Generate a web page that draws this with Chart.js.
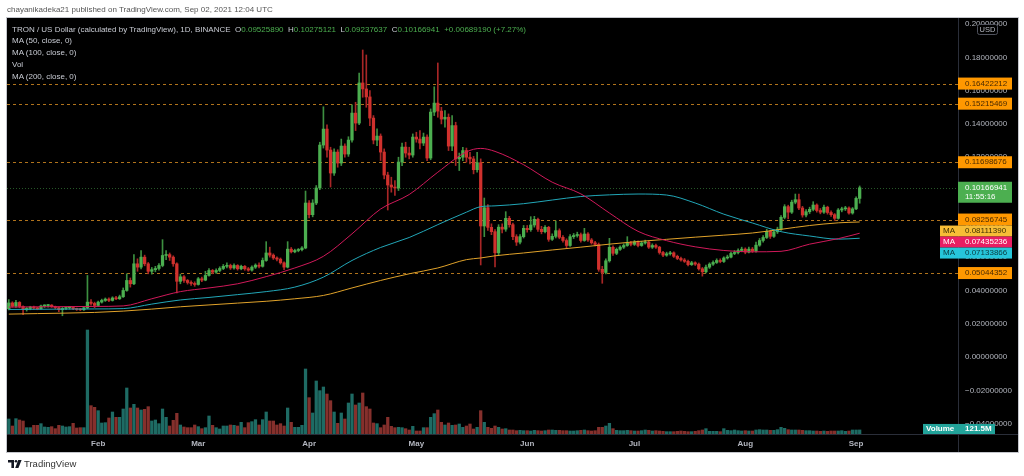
<!DOCTYPE html>
<html lang="en">
<head>
  <meta charset="UTF-8">
  <title>TRON / US Dollar</title>
  <script src="https://cdn.jsdelivr.net/npm/chart.js"></script>
  <style>
    html, body { margin: 0; padding: 0; background: #ffffff; }
    #tela { position: relative; width: 1024px; height: 476px; overflow: hidden; font-family: "Liberation Sans", Arial, sans-serif; }
    #grafico { position: absolute; left: 0; top: 0; }
    #publicado { position: absolute; left: 7px; top: 5px; font-size: 8px; color: #555555; white-space: nowrap; }
    #legenda { position: absolute; left: 12px; top: 23.5px; font-size: 8px; line-height: 11.8px; color: #c9ccd4; white-space: nowrap; }
    #legenda .v { color: #4caf50; }
    #rodape { position: absolute; left: 8px; top: 458px; font-size: 9.5px; color: #333333; white-space: nowrap; }
    #rodape svg { vertical-align: -1px; margin-right: 2px; }
  </style>
</head>

<body>
  <div id="tela">
    <canvas id="grafico" width="1024" height="476"></canvas>
    <div id="publicado">chayanikadeka21 published on TradingView.com, Sep 02, 2021 12:04 UTC</div>
    <div id="legenda">
      <div>TRON / US Dollar (calculated by TradingView), 1D, BINANCE&nbsp;&nbsp;O<span class="v">0.09525890</span>&nbsp;&nbsp;H<span class="v">0.10275121</span>&nbsp;&nbsp;L<span class="v">0.09237637</span>&nbsp;&nbsp;C<span class="v">0.10166941</span>&nbsp;&nbsp;<span class="v">+0.00689190 (+7.27%)</span></div>
      <div>MA (50, close, 0)</div>
      <div>MA (100, close, 0)</div>
      <div>Vol</div>
      <div>MA (200, close, 0)</div>
    </div>
    <div id="rodape"><svg width="14" height="8" viewBox="0 0 14 8"><path d="M0 0H6V8H3.4V2.4H0Z" fill="#131722"/><circle cx="8" cy="1.3" r="1.3" fill="#131722"/><path d="M10.2 0H13.6L10.4 8H7.2Z" fill="#131722"/></svg>TradingView</div>
  </div>

<script>
  // candles diarios a partir de 7 jan 2021
  var abertura = [
    .0290, .0325, .0305, .0328, .0304, .0285, .0292, .0300, .0294, .0290,
    .0307, .0309, .0312, .0302, .0297, .0285, .0292, .0296, .0298, .0290,
    .0286, .0284, .0296, .0330, .0322, .0310, .0330, .0340, .0348, .0340,
    .0355, .0350, .0362, .0400, .0460, .0440, .0560, .0540, .0600, .0560,
    .0515, .0525, .0532, .0550, .0610, .0615, .0600, .0560, .0455, .0482,
    .0460, .0448, .0442, .0436, .0470, .0462, .0490, .0520, .0510, .0520,
    .0532, .0545, .0550, .0535, .0550, .0530, .0545, .0530, .0522, .0540,
    .0552, .0545, .0580, .0625, .0612, .0595, .0588, .0566, .0540, .0648,
    .0632, .0640, .0645, .0655, .0925, .0855, .0925, .1015, .1273, .1369,
    .1243, .1105, .1231, .1165, .1267, .1219, .1303, .1465, .1405, .1646,
    .1610, .1562, .1435, .1303, .1327, .1231, .1093, .1033, .1021, .1015,
    .1171, .1261, .1225, .1213, .1321, .1309, .1285, .1321, .1195, .1471,
    .1525, .1477, .1429, .1440, .1267, .1390, .1190, .1200, .1240, .1200,
    .1190, .1125, .1167, .0787, .0897, .0779, .0753, .0626, .0780, .0768,
    .0833, .0795, .0723, .0690, .0723, .0773, .0765, .0793, .0827, .0767,
    .0753, .0779, .0707, .0725, .0759, .0719, .0700, .0670, .0723, .0730,
    .0735, .0700, .0739, .0703, .0686, .0676, .0527, .0508, .0578, .0659,
    .0623, .0647, .0660, .0670, .0685, .0677, .0690, .0670, .0685, .0690,
    .0660, .0670, .0660, .0628, .0612, .0620, .0626, .0605, .0592, .0583,
    .0575, .0555, .0566, .0558, .0530, .0512, .0540, .0558, .0568, .0580,
    .0574, .0595, .0600, .0622, .0628, .0640, .0648, .0630, .0648, .0636,
    .0672, .0700, .0718, .0755, .0725, .0752, .0768, .0839, .0903, .0870,
    .0930, .0945, .0895, .0853, .0873, .0887, .0913, .0880, .0870, .0900,
    .0868, .0855, .0833, .0883, .0890, .0895, .0865, .0890, .09526
  ];
  var maxima = [
    .0345, .0332, .0340, .0333, .0308, .0298, .0305, .0306, .0300, .0312,
    .0314, .0316, .0315, .0306, .0300, .0298, .0300, .0302, .0300, .0294,
    .0292, .0300, .0490, .0345, .0330, .0336, .0348, .0355, .0356, .0362,
    .0364, .0372, .0415, .0500, .0475, .0615, .0590, .0640, .0612, .0568,
    .0538, .0545, .0562, .0705, .0640, .0625, .0608, .0566, .0498, .0490,
    .0466, .0458, .0452, .0478, .0480, .0515, .0532, .0526, .0530, .0542,
    .0556, .0566, .0558, .0560, .0555, .0552, .0550, .0538, .0548, .0560,
    .0566, .0595, .0693, .0660, .0620, .0602, .0595, .0572, .0693, .0658,
    .0648, .0652, .0664, .0997, .0940, .0945, .1030, .1290, .1503, .1395,
    .1260, .1250, .1245, .1309, .1280, .1323, .1514, .1530, .1706, .1844,
    .1814, .1600, .1450, .1370, .1340, .1250, .1110, .1080, .1060, .1200,
    .1285, .1290, .1260, .1340, .1350, .1360, .1345, .1335, .1490, .1623,
    .1766, .1500, .1480, .1460, .1450, .1410, .1225, .1260, .1255, .1230,
    .1205, .1230, .1190, .0955, .0915, .0800, .0765, .0795, .0800, .0873,
    .0845, .0805, .0735, .0735, .0790, .0790, .0843, .0845, .0835, .0785,
    .0790, .0785, .0740, .0817, .0770, .0730, .0710, .0735, .0742, .0750,
    .0745, .0773, .0748, .0712, .0695, .0685, .0545, .0590, .0713, .0668,
    .0655, .0668, .0680, .0723, .0695, .0700, .0698, .0695, .0702, .0698,
    .0680, .0678, .0665, .0635, .0630, .0635, .0632, .0612, .0600, .0592,
    .0582, .0575, .0572, .0565, .0538, .0552, .0566, .0578, .0590, .0590,
    .0602, .0612, .0630, .0640, .0650, .0660, .0656, .0660, .0658, .0690,
    .0712, .0730, .0768, .0762, .0765, .0780, .0850, .0915, .0912, .0942,
    .0979, .0979, .0905, .0885, .0900, .0933, .0920, .0892, .0912, .0906,
    .0878, .0862, .0892, .0900, .0905, .0902, .0898, .0962, .10275
  ];
  var minima = [
    .0283, .0300, .0298, .0296, .0255, .0276, .0284, .0288, .0284, .0287,
    .0298, .0300, .0298, .0290, .0272, .0248, .0284, .0288, .0285, .0280,
    .0279, .0280, .0290, .0312, .0296, .0305, .0324, .0334, .0332, .0336,
    .0344, .0346, .0358, .0395, .0420, .0435, .0515, .0530, .0548, .0500,
    .0498, .0512, .0522, .0542, .0585, .0580, .0545, .0385, .0440, .0448,
    .0438, .0430, .0425, .0432, .0452, .0458, .0485, .0500, .0503, .0512,
    .0525, .0536, .0526, .0528, .0522, .0524, .0521, .0515, .0516, .0532,
    .0536, .0540, .0575, .0600, .0586, .0578, .0558, .0525, .0535, .0625,
    .0626, .0632, .0638, .0650, .0835, .0842, .0915, .1005, .1255, .1200,
    .1021, .1090, .1140, .1150, .1200, .1205, .1290, .1360, .1395, .1560,
    .1500, .1390, .1280, .1270, .1180, .1070, .0883, .0990, .0970, .1000,
    .1150, .1200, .1190, .1200, .1290, .1250, .1270, .1180, .1185, .1450,
    .1440, .1400, .1380, .1240, .1240, .1150, .1120, .1180, .1170, .1160,
    .1100, .1110, .0553, .0723, .0760, .0735, .0542, .0610, .0745, .0755,
    .0780, .0705, .0670, .0680, .0715, .0750, .0755, .0780, .0755, .0740,
    .0745, .0695, .0700, .0715, .0710, .0690, .0655, .0665, .0712, .0720,
    .0690, .0695, .0695, .0678, .0668, .0515, .0443, .0500, .0570, .0610,
    .0615, .0640, .0652, .0665, .0668, .0670, .0662, .0665, .0678, .0652,
    .0652, .0652, .0618, .0603, .0605, .0612, .0598, .0585, .0576, .0568,
    .0548, .0550, .0550, .0522, .0486, .0505, .0532, .0550, .0562, .0566,
    .0568, .0588, .0595, .0615, .0620, .0632, .0620, .0625, .0628, .0630,
    .0665, .0690, .0712, .0712, .0718, .0742, .0760, .0830, .0830, .0862,
    .0920, .0885, .0840, .0842, .0862, .0878, .0870, .0860, .0862, .0858,
    .0845, .0820, .0828, .0872, .0880, .0858, .0858, .0885, .09238
  ];
  var fechamento = [
    .0325, .0305, .0328, .0304, .0285, .0292, .0300, .0294, .0290, .0307,
    .0309, .0312, .0302, .0297, .0285, .0292, .0296, .0298, .0290, .0286,
    .0284, .0296, .0330, .0322, .0310, .0330, .0340, .0348, .0340, .0355,
    .0350, .0362, .0400, .0460, .0440, .0560, .0540, .0600, .0560, .0515,
    .0525, .0532, .0550, .0610, .0615, .0600, .0560, .0455, .0482, .0460,
    .0448, .0442, .0436, .0470, .0462, .0490, .0520, .0510, .0520, .0532,
    .0545, .0550, .0535, .0550, .0530, .0545, .0530, .0522, .0540, .0552,
    .0545, .0580, .0625, .0612, .0595, .0588, .0566, .0540, .0648, .0632,
    .0640, .0645, .0655, .0925, .0855, .0925, .1015, .1273, .1369, .1243,
    .1105, .1231, .1165, .1267, .1219, .1303, .1465, .1405, .1646, .1610,
    .1562, .1435, .1303, .1327, .1231, .1093, .1033, .1021, .1015, .1171,
    .1261, .1225, .1213, .1321, .1309, .1285, .1321, .1195, .1471, .1525,
    .1477, .1429, .1440, .1267, .1390, .1190, .1200, .1240, .1200, .1190,
    .1125, .1167, .0787, .0897, .0779, .0753, .0626, .0780, .0768, .0833,
    .0795, .0723, .0690, .0723, .0773, .0765, .0793, .0827, .0767, .0753,
    .0779, .0707, .0725, .0759, .0719, .0700, .0670, .0723, .0730, .0735,
    .0700, .0739, .0703, .0686, .0676, .0527, .0508, .0578, .0659, .0623,
    .0647, .0660, .0670, .0685, .0677, .0690, .0670, .0685, .0690, .0660,
    .0670, .0660, .0628, .0612, .0620, .0626, .0605, .0592, .0583, .0575,
    .0555, .0566, .0558, .0530, .0512, .0540, .0558, .0568, .0580, .0574,
    .0595, .0600, .0622, .0628, .0640, .0648, .0630, .0648, .0636, .0672,
    .0700, .0718, .0755, .0725, .0752, .0768, .0839, .0903, .0870, .0930,
    .0945, .0895, .0853, .0873, .0887, .0913, .0880, .0870, .0900, .0868,
    .0855, .0833, .0883, .0890, .0895, .0865, .0890, .0953, .10167
  ];
  // volume em milhoes
  var volume = [
    450, 240, 460, 420, 390, 190, 190, 260, 260, 310,
    210, 200, 220, 160, 260, 240, 210, 220, 320, 180,
    190, 190, 3120, 850, 800, 700, 330, 340, 480, 660,
    500, 500, 750, 1380, 780, 890, 780, 720, 740, 820,
    390, 420, 310, 750, 500, 240, 410, 620, 270, 210,
    190, 190, 270, 220, 160, 190, 540, 260, 190, 150,
    240, 240, 270, 260, 240, 350, 190, 340, 370, 430,
    270, 430, 660, 390, 390, 270, 310, 240, 780, 350,
    200, 200, 260, 1950, 1090, 630, 1590, 1300, 1410, 1200,
    1000, 660, 320, 630, 450, 930, 1200, 870, 930, 1230,
    820, 750, 330, 310, 190, 270, 500, 230, 190, 200,
    190, 160, 120, 230, 90, 90, 190, 190, 500, 610,
    720, 350, 270, 330, 260, 270, 300, 200, 240, 300,
    150, 200, 700, 350, 200, 170, 240, 200, 150, 160,
    120, 120, 100, 110, 100, 100, 90, 110, 100, 90,
    100, 120, 120, 110, 110, 100, 100, 90, 90, 100,
    110, 120, 100, 90, 100, 200, 200, 240, 320, 160,
    110, 100, 100, 110, 100, 90, 90, 100, 120, 110,
    90, 100, 90, 80, 70, 70, 70, 80, 90, 80,
    70, 70, 80, 100, 120, 160, 80, 80, 80, 70,
    160, 110, 100, 120, 100, 90, 100, 90, 90, 120,
    130, 120, 120, 110, 110, 130, 200, 170, 130, 120,
    120, 120, 110, 100, 100, 90, 90, 80, 90, 80,
    90, 90, 90, 100, 80, 90, 120, 120, 121.5
  ];

  // medias moveis lidas em alguns dias
  var diasMM = [0, 8, 16, 24, 32, 40, 48, 56, 64, 72, 80, 88, 96, 104, 112, 120, 128, 132, 136, 144, 152, 160, 168, 176, 184, 192, 200, 208, 216, 224, 232, 238];
  var mm50 = [.0300, .0302, .0303, .0304, .0307, .0350, .0393, .0415, .0440, .0483, .0535, .0605, .0740, .0889, .0976, .1110, .1232, .1253, .1235, .1155, .1050, .0980, .0865, .0755, .0699, .0662, .0640, .0632, .0635, .0678, .0711, .07435236];
  var mm100 = [.0286, .0287, .0288, .0289, .0291, .0318, .0343, .0358, .0375, .0393, .0420, .0480, .0580, .0658, .0718, .0795, .0870, .0903, .0908, .0921, .0943, .0964, .0974, .0979, .0973, .0925, .0858, .0805, .0753, .0727, .0708, .07133866];
  var mm200 = [.0258, .0261, .0264, .0268, .0276, .0288, .0302, .0313, .0324, .0335, .0350, .0370, .0415, .0460, .0500, .0535, .0585, .0595, .0608, .0625, .0643, .0660, .0678, .0694, .0707, .0720, .0732, .0745, .0767, .0790, .0806, .08111390];

  var meses = ['Jan', 'Feb', 'Mar', 'Apr', 'May', 'Jun', 'Jul', 'Aug', 'Sep', 'Oct'];
  var ticksPreco = [0.2, 0.18, 0.16, 0.14, 0.12, 0.1, 0.08, 0.06, 0.04, 0.02, 0, -0.02, -0.04];
  var niveis = [0.16422212, 0.15215469, 0.11698676, 0.08256745, 0.05044352];
  var precoAtual = 0.10166941;
  var contagem = '11:55:16';
  var volumeAtual = '121.5M';

  var fonte = '"Liberation Sans", Arial, sans-serif';
  var totalDias = 266;
  var inicio = Date.UTC(2021, 0, 7);

  var dias = [];
  for (let i = 0; i < totalDias; i++) {
    let d = new Date(inicio + i * 86400000);
    dias.push(`${d.getUTCFullYear()}-${d.getUTCMonth() + 1}-${d.getUTCDate()}`);
  }

  var pavios = [];
  var corpos = [];
  var corCorpo = [];
  var corPavio = [];
  var corVolume = [];
  for (let i = 0; i < fechamento.length; i++) {
    let alta = fechamento[i] >= abertura[i];
    pavios.push([minima[i], maxima[i]]);
    corpos.push([abertura[i], fechamento[i]]);
    corCorpo.push(alta ? '#4caf50' : '#d0312d');
    corPavio.push(alta ? '#3d8f40' : '#a82626');
    corVolume.push(alta ? '#1e6b64' : '#85302c');
  }

  function serieMM(valores) {
    let serie = new Array(fechamento.length).fill(null);
    for (let k = 0; k < diasMM.length; k++) {
      serie[diasMM[k]] = valores[k];
    }
    return serie;
  }

  function caixa(ctx, x1, x2, topo, altura, cor) {
    ctx.fillStyle = cor;
    ctx.fillRect(x1, topo, x2 - x1, altura);
  }

  const moldura = {
    id: 'moldura',
    beforeDraw(chart) {
      const ctx = chart.ctx;
      const a = chart.chartArea;
      ctx.save();
      ctx.fillStyle = '#ffffff';
      ctx.fillRect(0, 0, chart.width, chart.height);
      ctx.fillStyle = '#000000';
      ctx.fillRect(a.left, a.top, a.right - a.left + 60, a.bottom - a.top + 18);
      ctx.strokeStyle = '#c4c6cc';
      ctx.lineWidth = 1;
      ctx.strokeRect(a.left - 0.5, a.top - 0.5, a.right - a.left + 61, a.bottom - a.top + 19);
      ctx.restore();
    },
    beforeDatasetsDraw(chart) {
      const ctx = chart.ctx;
      const a = chart.chartArea;
      const y = chart.scales.y;
      ctx.save();
      ctx.beginPath();
      ctx.rect(a.left, a.top, a.right - a.left, a.bottom - a.top);
      ctx.clip();
      ctx.lineWidth = 1;
      ctx.strokeStyle = '#b0731c';
      ctx.setLineDash([3, 3]);
      niveis.forEach(function (v) {
        let py = Math.round(y.getPixelForValue(v)) + 0.5;
        ctx.beginPath();
        ctx.moveTo(a.left, py);
        ctx.lineTo(a.right, py);
        ctx.stroke();
      });
      ctx.strokeStyle = 'rgba(76, 175, 80, 0.5)';
      ctx.setLineDash([1, 2]);
      let pa = Math.round(y.getPixelForValue(precoAtual)) + 0.5;
      ctx.beginPath();
      ctx.moveTo(a.left, pa);
      ctx.lineTo(a.right, pa);
      ctx.stroke();
      ctx.restore();
    },
    afterDraw(chart) {
      const ctx = chart.ctx;
      const a = chart.chartArea;
      const y = chart.scales.y;
      const yVol = chart.scales.yVol;
      ctx.save();

      // separadores
      ctx.strokeStyle = '#2a2e39';
      ctx.lineWidth = 1;
      ctx.beginPath();
      ctx.moveTo(a.right + 0.5, a.top);
      ctx.lineTo(a.right + 0.5, a.bottom + 18);
      ctx.moveTo(a.left, a.bottom + 0.5);
      ctx.lineTo(a.right + 60, a.bottom + 0.5);
      ctx.stroke();

      // caixa do volume, cortada no fim do painel
      ctx.save();
      ctx.beginPath();
      ctx.rect(a.left, a.top, a.right - a.left + 60, a.bottom - a.top);
      ctx.clip();
      let vy = yVol.getPixelForValue(volume[volume.length - 1]);
      caixa(ctx, a.right - 35, a.right + 37, vy - 6, 12, '#22a39a');
      ctx.fillStyle = '#ffffff';
      ctx.font = `bold 8px ${fonte}`;
      ctx.textBaseline = 'middle';
      ctx.fillText('Volume', a.right - 32, vy - 1);
      ctx.fillText(volumeAtual, a.right + 7, vy - 1);
      ctx.restore();

      // rotulos do eixo de precos
      let rotulos = [
        { v: niveis[0], fundo: '#ff9800', texto: '#4a2a00', h: 12 },
        { v: niveis[1], fundo: '#ff9800', texto: '#4a2a00', h: 12 },
        { v: niveis[2], fundo: '#ff9800', texto: '#4a2a00', h: 12 },
        { v: precoAtual, fundo: '#4caf50', texto: '#ffffff', h: 21, linha2: contagem },
        { v: niveis[3], fundo: '#ff9800', texto: '#4a2a00', h: 12 },
        { v: mm200[mm200.length - 1], fundo: '#f7bd36', texto: '#3d3000', h: 11, mm: true },
        { v: mm50[mm50.length - 1], fundo: '#e91e63', texto: '#ffffff', h: 11, mm: true },
        { v: mm100[mm100.length - 1], fundo: '#26c6da', texto: '#0b3b40', h: 11, mm: true },
        { v: niveis[4], fundo: '#ff9800', texto: '#4a2a00', h: 12 }
      ];
      rotulos.sort(function (p, q) { return q.v - p.v; });
      let fundoAnterior = -100;
      ctx.font = `8px ${fonte}`;
      ctx.textBaseline = 'middle';
      rotulos.forEach(function (r) {
        let py = y.getPixelForValue(r.v);
        let topo = r.linha2 ? py - 6 : py - r.h / 2;
        if (topo < fundoAnterior) topo = fundoAnterior;
        let x1 = r.mm ? a.right - 18 : a.right;
        caixa(ctx, x1, a.right + 54, topo, r.h, r.fundo);
        ctx.fillStyle = r.texto;
        let meio = r.linha2 ? topo + 6 : topo + r.h / 2;
        if (r.mm) ctx.fillText('MA', x1 + 3, meio);
        ctx.fillText(r.v.toFixed(8), a.right + 7, meio);
        if (r.linha2) ctx.fillText(r.linha2, a.right + 7, meio + 9);
        fundoAnterior = topo + r.h;
      });

      // moeda
      ctx.strokeStyle = '#50535e';
      ctx.beginPath();
      ctx.roundRect(a.right + 19.5, a.top + 6.5, 20, 10, 2);
      ctx.fillStyle = '#000000';
      ctx.fill();
      ctx.stroke();
      ctx.fillStyle = '#b2b5be';
      ctx.font = `7.5px ${fonte}`;
      ctx.textAlign = 'center';
      ctx.fillText('USD', a.right + 29.5, a.top + 11.8);
      ctx.restore();
    }
  };

  const config = {
    type: 'bar',
    data: {
      labels: dias,
      datasets: [
        {
          label: 'MA (50, close, 0)',
          type: 'line',
          data: serieMM(mm50),
          borderColor: '#d0195a',
          borderWidth: 1,
          pointRadius: 0,
          spanGaps: true,
          cubicInterpolationMode: 'monotone',
          yAxisID: 'y',
          order: 1
        },
        {
          label: 'MA (100, close, 0)',
          type: 'line',
          data: serieMM(mm100),
          borderColor: '#22a7b8',
          borderWidth: 1,
          pointRadius: 0,
          spanGaps: true,
          cubicInterpolationMode: 'monotone',
          yAxisID: 'y',
          order: 1
        },
        {
          label: 'MA (200, close, 0)',
          type: 'line',
          data: serieMM(mm200),
          borderColor: '#e0a22a',
          borderWidth: 1,
          pointRadius: 0,
          spanGaps: true,
          cubicInterpolationMode: 'monotone',
          yAxisID: 'y',
          order: 1
        },
        {
          label: 'Corpo',
          data: corpos,
          backgroundColor: corCorpo,
          barThickness: 2.6,
          minBarLength: 1,
          grouped: false,
          yAxisID: 'y',
          order: 2
        },
        {
          label: 'Pavio',
          data: pavios,
          backgroundColor: corPavio,
          barThickness: 1,
          grouped: false,
          yAxisID: 'y',
          order: 3
        },
        {
          label: 'Vol',
          data: volume,
          backgroundColor: corVolume,
          barThickness: 2.6,
          grouped: false,
          yAxisID: 'yVol',
          order: 4
        }
      ]
    },
    options: {
      responsive: false,
      animation: false,
      events: [],
      layout: { padding: { left: 7, top: 18, right: 6, bottom: 24 } },
      plugins: { legend: { display: false }, tooltip: { enabled: false } },
      scales: {
        x: {
          grid: { display: false, drawTicks: false },
          border: { display: false },
          afterFit: function (eixo) { eixo.height = 18; },
          ticks: {
            autoSkip: false,
            maxRotation: 0,
            minRotation: 0,
            padding: 5,
            color: '#b2b5be',
            font: { family: fonte, size: 8, weight: 'bold' },
            callback: function (valor, indice) {
              let d = new Date(inicio + indice * 86400000);
              return d.getUTCDate() === 1 ? meses[d.getUTCMonth()] : '';
            }
          }
        },
        y: {
          position: 'right',
          min: -0.0462,
          max: 0.2036,
          grid: { display: false, drawTicks: false },
          border: { display: false },
          afterFit: function (eixo) { eixo.width = 60; },
          afterBuildTicks: function (eixo) {
            eixo.ticks = ticksPreco.map(function (v) { return { value: v }; });
          },
          ticks: {
            padding: 7,
            color: '#b2b5be',
            font: { family: fonte, size: 8 },
            callback: function (valor) {
              return valor.toFixed(8).replace('-', '\u2212');
            }
          }
        },
        yVol: {
          display: false,
          min: 0,
          max: 12480
        }
      }
    },
    plugins: [moldura]
  };

  var grafico = new Chart(document.getElementById('grafico'), config);
</script>
</body>
</html>
